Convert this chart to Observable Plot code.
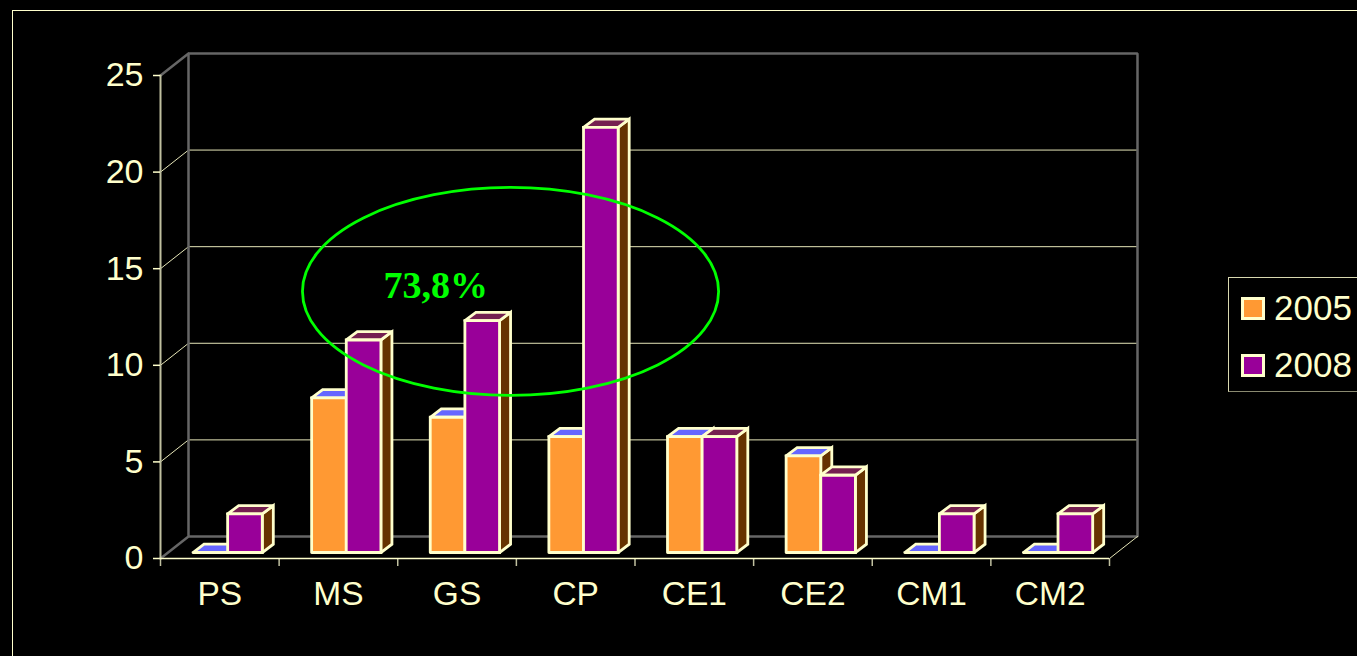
<!DOCTYPE html>
<html>
<head>
<meta charset="utf-8">
<script src="https://cdn.jsdelivr.net/npm/d3@7"></script>
<script src="https://cdn.jsdelivr.net/npm/@observablehq/plot@0.6"></script>
<style>
html,body{margin:0;padding:0;background:#000;overflow:hidden;width:1357px;height:656px}
#chart{position:relative;width:1357px;height:656px}
#chart svg{position:absolute;left:0;top:0}
#frame{position:absolute;left:12px;top:10px;width:1400px;height:700px;border-left:1.5px solid #ffffcc;border-top:1.5px solid #ffffcc}
#legend{position:absolute;left:1228px;top:277px;width:140px;height:113px;border:1px solid #d8d8b0;border-bottom-color:#8a8a70;font:35px "Liberation Sans",Arial,sans-serif;color:#ffffcc}
#legend .row{position:absolute;left:12px;height:24px;display:flex;align-items:center}
#legend .sw{display:block;width:18px;height:17px;border:3px solid #ffffcc;margin-right:9px}
</style>
</head>
<body>
<div id="chart"><div id="frame"></div></div>
<script>
const categories = ["PS","MS","GS","CP","CE1","CE2","CM1","CM2"];
const years = ["2005","2008"];
const values2005 = [0,8,7,6,6,5,0,0];
const values2008 = [2,11,12,22,6,4,2,2];
const yTicks = [0,5,10,15,20,25];
const annotation = "73,8%";

const cream = "#ffffcc", wall = "#666666", grid = "#e6e6b8";
const frontColors = ["#ff9933","#990099"];
const topColors = ["#6666ff","#752050"];
const sideColor = "#663300";

// depth of the 3-D box, in scale units
const wallDx = 0.236, wallDy = 1.14;
// bar layout, in scale units
const barStart = 0.274, barW = 0.292, lift = 0.31, barDx = 0.093, barDy = 0.43;

const faces = [];
function face(id, fill, pts){ pts.concat([pts[0]]).forEach(([x,y]) => faces.push({id, fill, x, y})); }
categories.forEach((c,i) => {
  [values2005[i], values2008[i]].forEach((v,s) => {
    const x0 = i + barStart + s*barW, x1 = x0 + barW, y0 = lift, y1 = lift + v;
    const id = c + s;
    face(id+"side", sideColor, [[x1,y0],[x1+barDx,y0+barDy],[x1+barDx,y1+barDy],[x1,y1]]);
    face(id+"top", topColors[s], [[x0,y1],[x1,y1],[x1+barDx,y1+barDy],[x0+barDx,y1+barDy]]);
    if (v > 0) face(id+"front", frontColors[s], [[x0,y0],[x1,y0],[x1,y1],[x0,y1]]);
  });
});

const gridTicks = yTicks.filter(t => t > 0 && t < 25);
const gridLines = gridTicks.flatMap(t => [
  {id:"b"+t,x:wallDx,y:t+wallDy},{id:"b"+t,x:8+wallDx,y:t+wallDy},
  {id:"d"+t,x:0,y:t},{id:"d"+t,x:wallDx,y:t+wallDy}
]);
const wallLines = [
  {id:"w",x:0,y:0},{id:"w",x:wallDx,y:wallDy},{id:"w",x:8+wallDx,y:wallDy},
  {id:"w",x:8+wallDx,y:25+wallDy},{id:"w",x:wallDx,y:25+wallDy},{id:"w",x:wallDx,y:wallDy},
  {id:"t",x:0,y:25},{id:"t",x:wallDx,y:25+wallDy}
];
const floorEdge = [{x:8,y:0},{x:8+wallDx,y:wallDy}];
const leftEdge = [{x:0,y:0},{x:0,y:25}];

const ellipse = (index, {x,y}) => {
  const e = d3.create("svg:ellipse")
    .attr("cx", x(2.955)).attr("cy", y(13.8))
    .attr("rx", x(1.754)-x(0)).attr("ry", y(0)-y(5.38))
    .attr("fill","none").attr("stroke","#00ff00").attr("stroke-width",2.8);
  return e.node();
};

const plot = Plot.plot({
  width:1357, height:656,
  marginLeft:160, marginRight:248, marginTop:75, marginBottom:98,
  style:{background:"transparent", fontFamily:"'Liberation Sans',Arial,sans-serif"},
  x:{domain:[0,8], axis:null},
  y:{domain:[0,25], axis:null},
  color:{type:"identity"},
  marks:[
    Plot.line(gridLines,{x:"x",y:"y",z:"id",stroke:grid,strokeWidth:1}),
    Plot.line(wallLines,{x:"x",y:"y",z:"id",stroke:wall,strokeWidth:2.5,strokeLinejoin:"miter"}),
    Plot.line(floorEdge,{x:"x",y:"y",stroke:grid,strokeWidth:1}),
    Plot.line(leftEdge,{x:"x",y:"y",stroke:"#c0c0a0",strokeWidth:2}),
    Plot.axisY({ticks:yTicks,anchor:"left",label:null,tickSize:7,tickPadding:10,fontSize:34,color:cream,strokeWidth:1.5}),
    Plot.axisX({ticks:d3.range(0,9),anchor:"bottom",label:null,tickSize:8,tickFormat:()=>"",color:"#c0c0a0",strokeWidth:1.5}),
    Plot.ruleY([0],{stroke:cream,strokeWidth:1.5}),
    Plot.text(categories,{x:(d,i)=>i+0.5,y:()=>0,dy:36,text:d=>d,fontSize:33.5,fill:cream}),
    Plot.line(faces,{x:"x",y:"y",z:"id",fill:"fill",stroke:cream,strokeWidth:2.8,strokeLinejoin:"miter",strokeMiterlimit:3,curve:"linear"}),
    ellipse,
    Plot.text([annotation],{x:()=>2.32,y:()=>14.1,text:d=>d,fontSize:38,fontWeight:"bold",fontFamily:"'Liberation Serif','Times New Roman',serif",fill:"#00ff00"})
  ]
});
const chart = document.getElementById("chart");
chart.appendChild(plot);

const legend = d3.select(chart).append("div").attr("id","legend");
years.forEach((yr,i) => {
  const row = legend.append("div").attr("class","row").style("top",(i?75:18)+"px");
  row.append("span").attr("class","sw").style("background",frontColors[i]);
  row.append("span").text(yr);
});
</script>
</body>
</html>
